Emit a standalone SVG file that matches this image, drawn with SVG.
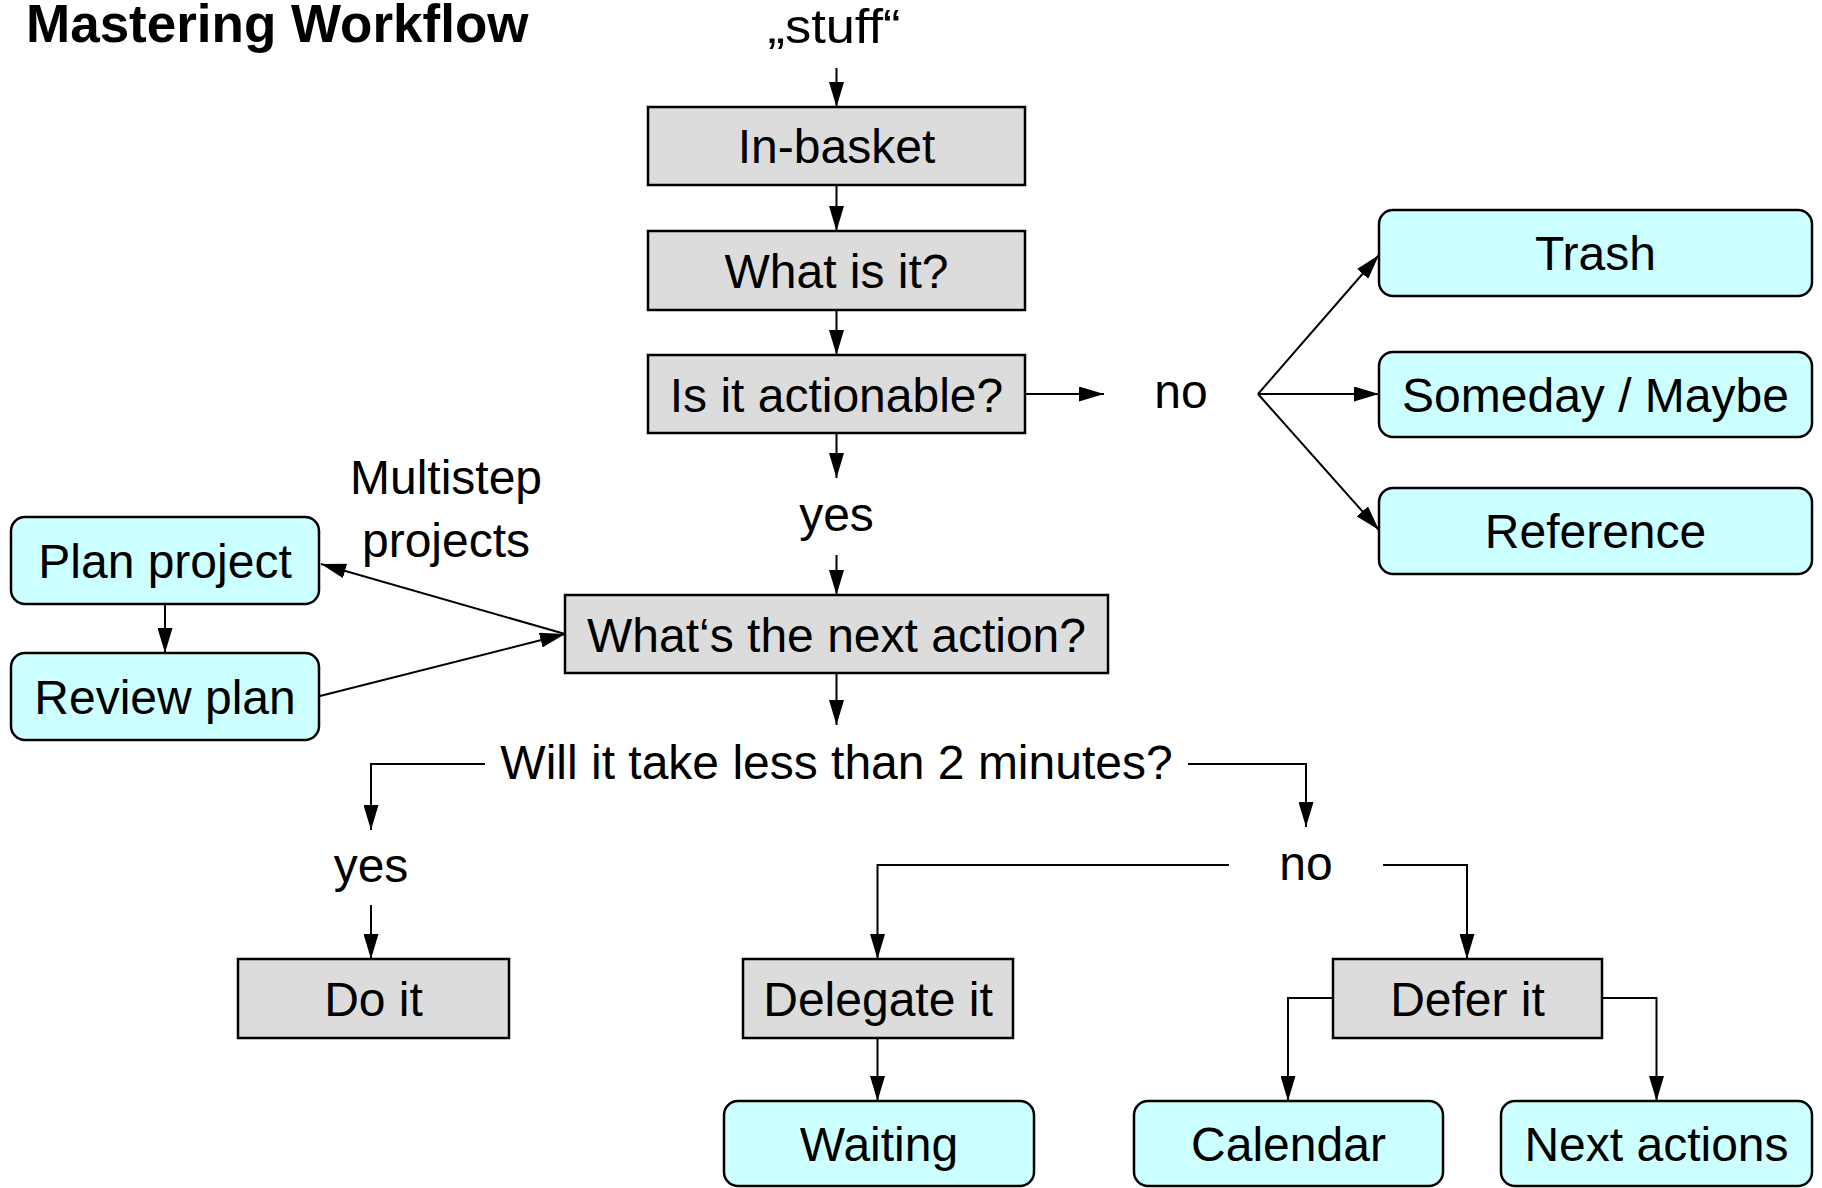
<svg xmlns="http://www.w3.org/2000/svg" width="1822" height="1188" viewBox="0 0 1822 1188">
<style>
.t{font-family:"Liberation Sans",Arial,sans-serif;font-size:48px;fill:#000;text-anchor:middle}
.title{font-family:"Liberation Sans",Arial,sans-serif;font-size:53px;font-weight:bold;fill:#000}
.g{fill:#dcdcdc;stroke:#000;stroke-width:2.5}
.c{fill:#ccffff;stroke:#000;stroke-width:2.5}
.e{fill:none;stroke:#000;stroke-width:2}
</style>
<defs>
<marker id="ah" markerUnits="userSpaceOnUse" markerWidth="25" markerHeight="15" refX="25" refY="7.5" orient="auto">
<path d="M0,0 L25,7.5 L0,15 z" fill="#000"/>
</marker>
</defs>
<rect width="1822" height="1188" fill="#fff"/>
<text class="title" x="26" y="42">Mastering Workflow</text>
<text class="t" x="834" y="43" textLength="133" lengthAdjust="spacingAndGlyphs">„stuff“</text>
<text class="t" x="1181" y="408">no</text>
<text class="t" x="836.5" y="531">yes</text>
<text class="t" x="446" y="494">Multistep</text>
<text class="t" x="446" y="557">projects</text>
<text class="t" x="836.5" y="779">Will it take less than 2 minutes?</text>
<text class="t" x="371" y="882">yes</text>
<text class="t" x="1306" y="880">no</text>

<g id="connectors">
<path class="e" d="M836.5,68 V107" marker-end="url(#ah)"/>
<path class="e" d="M836.5,185 V231" marker-end="url(#ah)"/>
<path class="e" d="M836.5,310 V355" marker-end="url(#ah)"/>
<path class="e" d="M1025,394 H1104" marker-end="url(#ah)"/>
<path class="e" d="M1258,394 L1379,255" marker-end="url(#ah)"/>
<path class="e" d="M1258,394 H1379" marker-end="url(#ah)"/>
<path class="e" d="M1258,394 L1379,530" marker-end="url(#ah)"/>
<path class="e" d="M836.5,433 V478" marker-end="url(#ah)"/>
<path class="e" d="M836.5,555 V595" marker-end="url(#ah)"/>
<path class="e" d="M565,634 L321,564" marker-end="url(#ah)"/>
<path class="e" d="M320,696 L565,634" marker-end="url(#ah)"/>
<path class="e" d="M165,604 V653" marker-end="url(#ah)"/>
<path class="e" d="M836.5,673 V725" marker-end="url(#ah)"/>
<path class="e" d="M485,764 H371 V830" marker-end="url(#ah)"/>
<path class="e" d="M371,905 V959" marker-end="url(#ah)"/>
<path class="e" d="M1188,764 H1306 V827" marker-end="url(#ah)"/>
<path class="e" d="M1229,865 H877.5 V959" marker-end="url(#ah)"/>
<path class="e" d="M1383,865 H1467 V959" marker-end="url(#ah)"/>
<path class="e" d="M877.5,1038 V1101" marker-end="url(#ah)"/>
<path class="e" d="M1333,998 H1288 V1101" marker-end="url(#ah)"/>
<path class="e" d="M1602,998 H1656.5 V1101" marker-end="url(#ah)"/>
</g>

<g id="in-basket"><rect class="g" x="648" y="107" width="377" height="78"/><text class="t" x="836.5" y="163">In-basket</text></g>
<g id="what-is-it"><rect class="g" x="648" y="231" width="377" height="79"/><text class="t" x="836.5" y="288">What is it?</text></g>
<g id="actionable"><rect class="g" x="648" y="355" width="377" height="78"/><text class="t" x="836.5" y="412">Is it actionable?</text></g>
<g id="next-action"><rect class="g" x="565" y="595" width="543" height="78"/><text class="t" x="836.5" y="652">What‘s the next action?</text></g>
<g id="do-it"><rect class="g" x="238" y="959" width="271" height="79"/><text class="t" x="373.5" y="1016">Do it</text></g>
<g id="delegate-it"><rect class="g" x="743" y="959" width="270" height="79"/><text class="t" x="878" y="1016">Delegate it</text></g>
<g id="defer-it"><rect class="g" x="1333" y="959" width="269" height="79"/><text class="t" x="1467.5" y="1016">Defer it</text></g>

<g id="trash"><rect class="c" x="1379" y="210" width="433" height="86" rx="14"/><text class="t" x="1595.5" y="270">Trash</text></g>
<g id="someday"><rect class="c" x="1379" y="352" width="433" height="85" rx="14"/><text class="t" x="1595.5" y="412">Someday / Maybe</text></g>
<g id="reference"><rect class="c" x="1379" y="488" width="433" height="86" rx="14"/><text class="t" x="1595.5" y="548">Reference</text></g>
<g id="plan-project"><rect class="c" x="11" y="517" width="308" height="87" rx="14"/><text class="t" x="165" y="578">Plan project</text></g>
<g id="review-plan"><rect class="c" x="11" y="653" width="308" height="87" rx="14"/><text class="t" x="165" y="714">Review plan</text></g>
<g id="waiting"><rect class="c" x="724" y="1101" width="310" height="85" rx="14"/><text class="t" x="879" y="1161">Waiting</text></g>
<g id="calendar"><rect class="c" x="1134" y="1101" width="309" height="85" rx="14"/><text class="t" x="1288.5" y="1161">Calendar</text></g>
<g id="next-actions"><rect class="c" x="1501" y="1101" width="311" height="85" rx="14"/><text class="t" x="1656.5" y="1161">Next actions</text></g>
</svg>
